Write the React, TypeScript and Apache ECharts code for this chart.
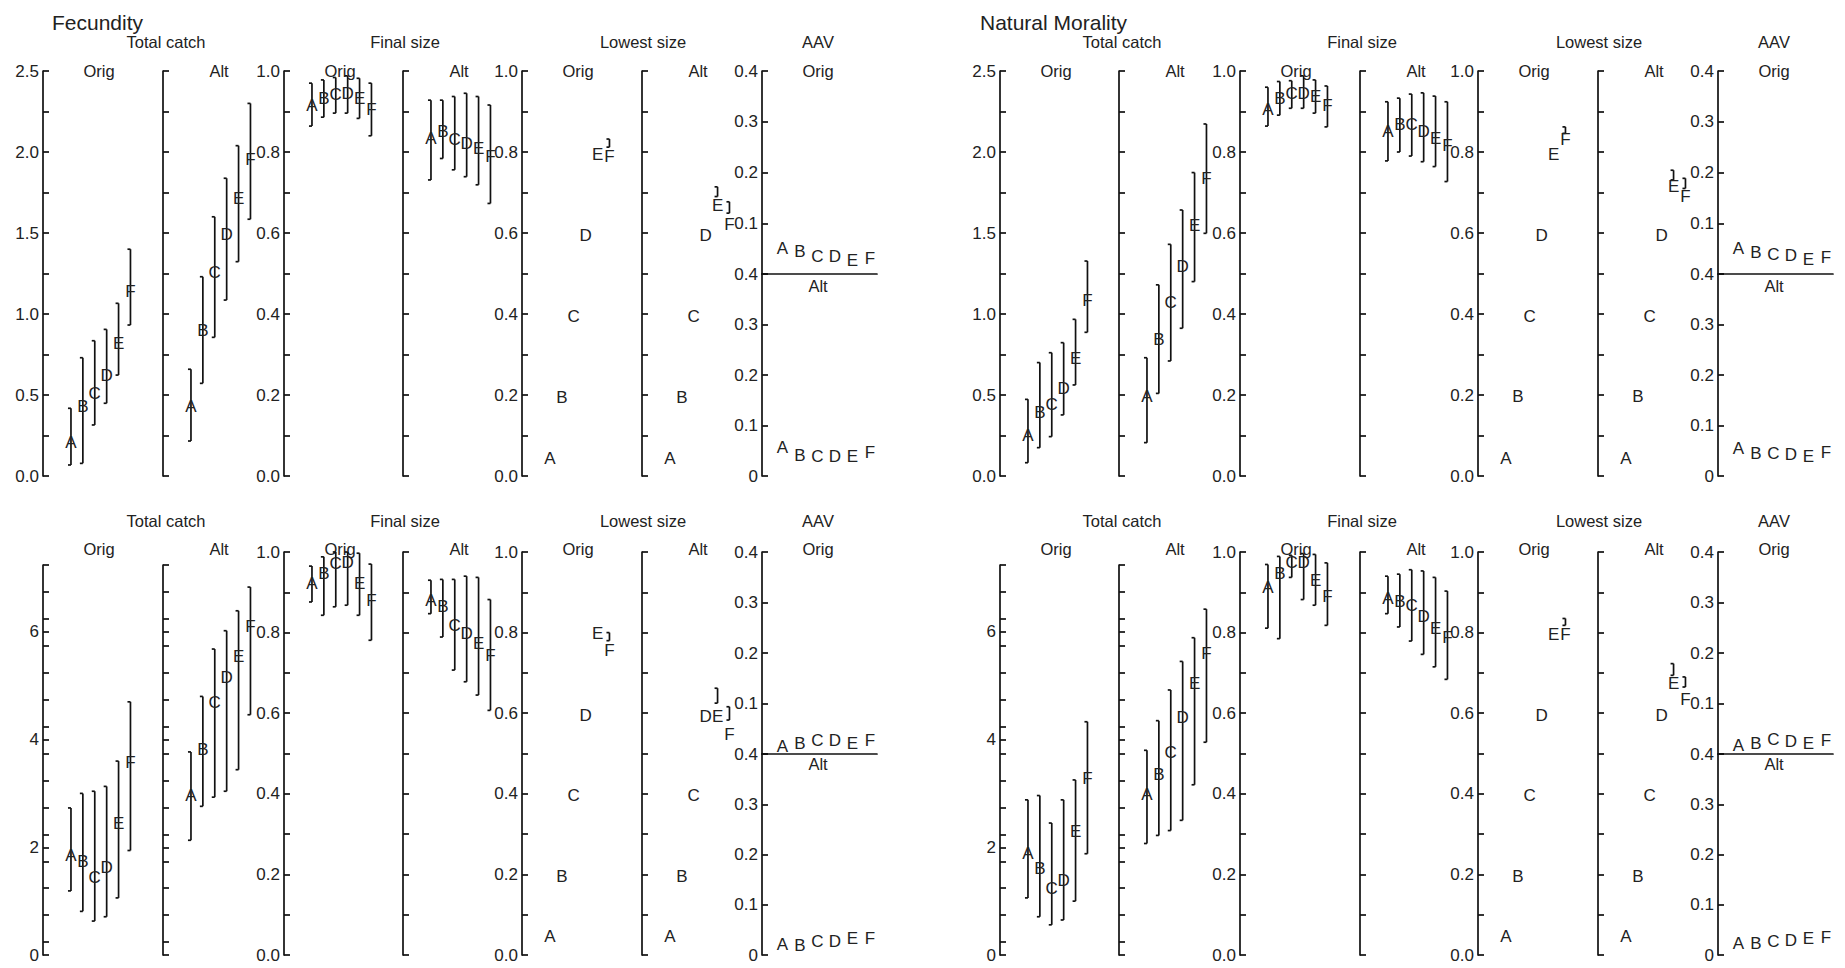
import React, { useEffect, useRef } from 'react';
import * as echarts from 'echarts';

// ---------- data: [mean, low, high] per scenario A..F ----------
const LETTERS = ['A', 'B', 'C', 'D', 'E', 'F'];
const X_POS = [1, 2, 3, 4, 5, 6];

// Fecundity, upper row
const FEC1_TC_ORIG = [[0.206, 0.068, 0.418], [0.428, 0.078, 0.73], [0.51, 0.315, 0.835], [0.623, 0.449, 0.905], [0.819, 0.623, 1.066], [1.138, 0.932, 1.4]];
const FEC1_TC_ALT = [[0.428, 0.216, 0.659], [0.901, 0.572, 1.23], [1.255, 0.856, 1.6], [1.488, 1.086, 1.838], [1.714, 1.323, 2.039], [1.951, 1.585, 2.3]];
const FEC1_FS_ORIG = [[0.914, 0.864, 0.97], [0.933, 0.886, 0.978], [0.941, 0.896, 0.984], [0.945, 0.896, 0.988], [0.933, 0.883, 0.982], [0.904, 0.84, 0.97]];
const FEC1_FS_ALT = [[0.834, 0.731, 0.928], [0.85, 0.784, 0.928], [0.83, 0.756, 0.937], [0.82, 0.739, 0.945], [0.809, 0.719, 0.937], [0.788, 0.673, 0.916]];
const FEC1_LS_ORIG = [[0.044, null, null], [0.195, null, null], [0.395, null, null], [0.595, null, null], [0.793, null, null], [0.79, 0.812, 0.832]];
const FEC1_LS_ALT = [[0.044, null, null], [0.195, null, null], [0.395, null, null], [0.595, null, null], [0.669, 0.69, 0.714], [0.62, 0.649, 0.677]];
const FEC1_AAV_ORIG = [0.051, 0.044, 0.035, 0.034, 0.027, 0.031];
const FEC1_AAV_ALT = [0.056, 0.041, 0.039, 0.039, 0.038, 0.046];

// Fecundity, lower row
const FEC2_TC_ORIG = [[1.85, 1.19, 2.73], [1.73, 0.81, 3.0], [1.44, 0.63, 3.04], [1.63, 0.71, 3.13], [2.45, 1.06, 3.6], [3.58, 1.94, 4.7]];
const FEC2_TC_ALT = [[2.96, 2.13, 3.77], [3.81, 2.76, 4.8], [4.69, 2.93, 5.68], [5.15, 3.04, 6.02], [5.54, 3.44, 6.39], [6.09, 4.46, 6.83]];
const FEC2_FS_ORIG = [[0.922, 0.876, 0.965], [0.946, 0.843, 0.988], [0.971, 0.864, 1.0], [0.975, 0.868, 1.0], [0.922, 0.843, 0.997], [0.88, 0.781, 0.97]];
const FEC2_FS_ALT = [[0.88, 0.847, 0.93], [0.864, 0.789, 0.932], [0.818, 0.707, 0.932], [0.798, 0.678, 0.94], [0.774, 0.645, 0.937], [0.744, 0.607, 0.882]];
const FEC2_LS_ORIG = [[0.045, null, null], [0.194, null, null], [0.397, null, null], [0.595, null, null], [0.798, null, null], [0.756, 0.78, 0.8]];
const FEC2_LS_ALT = [[0.045, null, null], [0.194, null, null], [0.397, null, null], [0.591, null, null], [0.591, 0.625, 0.662], [0.546, 0.583, 0.616]];
const FEC2_AAV_ORIG = [0.0145, 0.02, 0.026, 0.026, 0.021, 0.026];
const FEC2_AAV_ALT = [0.02, 0.018, 0.026, 0.027, 0.033, 0.033];

// Natural Morality, upper row
const NM1_TC_ORIG = [[0.253, 0.082, 0.473], [0.391, 0.175, 0.7], [0.444, 0.243, 0.761], [0.541, 0.377, 0.823], [0.726, 0.562, 0.967], [1.086, 0.887, 1.327]];
const NM1_TC_ALT = [[0.49, 0.206, 0.73], [0.84, 0.51, 1.18], [1.07, 0.71, 1.43], [1.296, 0.912, 1.642], [1.549, 1.2, 1.873], [1.838, 1.498, 2.173]];
const NM1_FS_ORIG = [[0.904, 0.864, 0.96], [0.933, 0.891, 0.974], [0.945, 0.908, 0.976], [0.945, 0.908, 0.988], [0.937, 0.896, 0.978], [0.916, 0.862, 0.963]];
const NM1_FS_ALT = [[0.85, 0.778, 0.924], [0.867, 0.8, 0.933], [0.867, 0.79, 0.943], [0.85, 0.776, 0.946], [0.834, 0.764, 0.938], [0.817, 0.727, 0.924]];
const NM1_LS_ORIG = [[0.044, null, null], [0.196, null, null], [0.393, null, null], [0.595, null, null], [0.793, null, null], [0.83, 0.846, 0.862]];
const NM1_LS_ALT = [[0.044, null, null], [0.196, null, null], [0.393, null, null], [0.595, null, null], [0.714, 0.731, 0.755], [0.69, 0.71, 0.735]];
const NM1_AAV_ORIG = [0.051, 0.042, 0.038, 0.036, 0.028, 0.033];
const NM1_AAV_ALT = [0.054, 0.045, 0.045, 0.043, 0.038, 0.046];

// Natural Morality, lower row
const NM2_TC_ORIG = [[1.88, 1.06, 2.88], [1.61, 0.71, 2.96], [1.23, 0.56, 2.45], [1.39, 0.65, 2.88], [2.3, 1.0, 3.25], [3.27, 1.88, 4.33]];
const NM2_TC_ALT = [[2.98, 2.07, 3.8], [3.35, 2.22, 4.35], [3.75, 2.31, 4.92], [4.41, 2.5, 5.45], [5.04, 3.16, 5.89], [5.6, 3.95, 6.42]];
const NM2_FS_ORIG = [[0.913, 0.811, 0.969], [0.946, 0.785, 0.989], [0.975, 0.937, 0.992], [0.975, 0.882, 0.996], [0.93, 0.868, 0.994], [0.89, 0.818, 0.973]];
const NM2_FS_ALT = [[0.884, 0.847, 0.94], [0.876, 0.814, 0.945], [0.868, 0.779, 0.956], [0.84, 0.746, 0.953], [0.81, 0.715, 0.937], [0.789, 0.684, 0.903]];
const NM2_LS_ORIG = [[0.045, null, null], [0.194, null, null], [0.397, null, null], [0.595, null, null], [0.796, null, null], [0.796, 0.818, 0.835]];
const NM2_LS_ALT = [[0.045, null, null], [0.194, null, null], [0.397, null, null], [0.595, null, null], [0.674, 0.694, 0.723], [0.634, 0.665, 0.69]];
const NM2_AAV_ORIG = [0.016, 0.021, 0.028, 0.024, 0.02, 0.026];
const NM2_AAV_ALT = [0.022, 0.022, 0.026, 0.028, 0.033, 0.035];

// ---------- tick labels / tick positions ----------
const TC1_LABELS = [0, 0.5, 1, 1.5, 2, 2.5];
const TC1_TICKS = [0, 0.25, 0.5, 0.75, 1, 1.25, 1.5, 1.75, 2, 2.25, 2.5];
const TC2_MAX = 7.24;
const TC2_LABELS = [0, 2, 4, 6];
const TC2_TICKS = [0, 2, 4, 6, 0.24, 0.74, 1.24, 1.74, 2.24, 2.74, 3.24, 3.74, 4.24, 4.74, 5.24, 5.74, 6.24, 6.74, 7.24];
const UNIT_LABELS = [0, 0.2, 0.4, 0.6, 0.8, 1];
const UNIT_TICKS = [0, 0.1, 0.2, 0.3, 0.4, 0.5, 0.6, 0.7, 0.8, 0.9, 1];
const AAV_TOP_LABELS = [0.1, 0.2, 0.3, 0.4];
const AAV_BOTTOM_LABELS = [0, 0.1, 0.2, 0.3, 0.4];
const AAV_TICKS = [0, 0.1, 0.2, 0.3, 0.4];

const PANEL_TITLES = ['Fecundity', 'Natural Morality'];
const GROUP_TITLES = ['Total catch', 'Final size', 'Lowest size', 'AAV'];
const SUB_TITLES = ['Orig', 'Alt'];

const PANEL_DATA = [
  [
    { tc: [FEC1_TC_ORIG, FEC1_TC_ALT], fs: [FEC1_FS_ORIG, FEC1_FS_ALT], ls: [FEC1_LS_ORIG, FEC1_LS_ALT], aav: [FEC1_AAV_ORIG, FEC1_AAV_ALT] },
    { tc: [FEC2_TC_ORIG, FEC2_TC_ALT], fs: [FEC2_FS_ORIG, FEC2_FS_ALT], ls: [FEC2_LS_ORIG, FEC2_LS_ALT], aav: [FEC2_AAV_ORIG, FEC2_AAV_ALT] },
  ],
  [
    { tc: [NM1_TC_ORIG, NM1_TC_ALT], fs: [NM1_FS_ORIG, NM1_FS_ALT], ls: [NM1_LS_ORIG, NM1_LS_ALT], aav: [NM1_AAV_ORIG, NM1_AAV_ALT] },
    { tc: [NM2_TC_ORIG, NM2_TC_ALT], fs: [NM2_FS_ORIG, NM2_FS_ALT], ls: [NM2_LS_ORIG, NM2_LS_ALT], aav: [NM2_AAV_ORIG, NM2_AAV_ALT] },
  ],
];

// ---------- layout ----------
const FONT = '"Liberation Sans", Arial, Helvetica, sans-serif';
const INK = '#111';
const TXT = '#222';
const LETTER_SIZE = 17;
const TICK_SIZE = 17;
const PANEL_AXES = [
  [43, 163, 284, 403, 522, 642, 762],
  [1000, 1119, 1240, 1360, 1478, 1598, 1718],
];
const PANEL_TITLE_X = [52, 980];
const ROWS = [
  { top: 71, bottom: 476, tcTop: 71, mid: 274, titleY: 42, subY: 71, altY: 286 },
  { top: 552, bottom: 955, tcTop: 565, mid: 754, titleY: 521, subY: 549, altY: 764 },
];
const SUB_W = 119;
const X_MIN = -1.35;
const X_MAX = 8.65;
const AAV_W = 115;
const AAV_XMIN = -0.17;
const AAV_XMAX = 6.4;
const CAP = 3;

function fmt1(v: number) {
  return v.toFixed(1);
}

function makeRender(rows: any[]) {
  return (params: any, api: any) => {
    const i = params.dataIndex;
    const d = rows[i];
    const x = X_POS[i];
    const c = api.coord([x, d[0]]);
    const children: any[] = [];
    if (d[1] != null && d[2] != null) {
      const a = api.coord([x, d[1]]);
      const b = api.coord([x, d[2]]);
      const st = { stroke: INK, lineWidth: 1.7, fill: null };
      children.push({ type: 'line', shape: { x1: a[0], y1: a[1], x2: b[0], y2: b[1] }, style: st });
      children.push({ type: 'line', shape: { x1: a[0] - CAP, y1: a[1], x2: a[0], y2: a[1] }, style: st });
      children.push({ type: 'line', shape: { x1: b[0] - CAP, y1: b[1], x2: b[0], y2: b[1] }, style: st });
    }
    children.push({
      type: 'text',
      x: c[0],
      y: c[1],
      z2: 10,
      style: {
        text: LETTERS[i],
        fill: TXT,
        fontSize: LETTER_SIZE,
        fontFamily: FONT,
        align: 'center',
        verticalAlign: 'middle',
        textAlign: 'center',
        textVerticalAlign: 'middle',
      },
    });
    return { type: 'group', children };
  };
}

function textEl(text: string, x: number, y: number, size: number, align = 'center') {
  return {
    type: 'text',
    x,
    y,
    silent: true,
    style: {
      text,
      fill: TXT,
      fontSize: size,
      fontFamily: FONT,
      align,
      verticalAlign: 'middle',
      textAlign: align,
      textVerticalAlign: 'middle',
    },
  };
}

function buildOption() {
  const grid: any[] = [];
  const xAxis: any[] = [];
  const yAxis: any[] = [];
  const series: any[] = [];
  const graphic: any[] = [];

  const axisLine = { show: true, onZero: false, lineStyle: { color: INK, width: 1.7 } };
  const tickStyle = { color: INK, width: 1.7 };
  const labelBase = { margin: 4, fontSize: TICK_SIZE, color: TXT, fontFamily: FONT };

  const addGrid = (left: number, top: number, width: number, height: number, xmin: number, xmax: number, yCfg: any, showXLine: boolean) => {
    const gi = grid.length;
    grid.push({ left, top, width, height, containLabel: false, outerBoundsMode: 'none', show: false });
    xAxis.push({
      gridIndex: gi,
      type: 'value',
      min: xmin,
      max: xmax,
      show: showXLine,
      axisLine: { show: showXLine, onZero: false, lineStyle: { color: INK, width: 1.7 } },
      axisTick: { show: false },
      axisLabel: { show: false },
      splitLine: { show: false },
    });
    yAxis.push({
      gridIndex: gi,
      type: 'value',
      min: yCfg.min,
      max: yCfg.max,
      axisLine,
      axisTick: { show: true, inside: true, length: 6, customValues: yCfg.ticks, lineStyle: tickStyle },
      axisLabel: { ...labelBase, show: yCfg.showLabels, customValues: yCfg.labels, formatter: yCfg.fmt },
      splitLine: { show: false },
    });
    return gi;
  };

  const addSeries = (gi: number, rows: any[]) => {
    series.push({
      type: 'custom',
      xAxisIndex: gi,
      yAxisIndex: gi,
      silent: true,
      clip: false,
      data: rows.map((d: any, i: number) => [X_POS[i], d[0]]),
      renderItem: makeRender(rows),
    });
  };

  for (let p = 0; p < 2; p++) {
    const axes = PANEL_AXES[p];
    graphic.push(textEl(PANEL_TITLES[p], PANEL_TITLE_X[p], 22, 21, 'left'));
    for (let r = 0; r < 2; r++) {
      const row = ROWS[r];
      const d = PANEL_DATA[p][r];
      const metrics = [d.tc, d.fs, d.ls];
      for (let k = 0; k < 6; k++) {
        const m = Math.floor(k / 2);
        const v = k % 2;
        const isTc = m === 0;
        const top = isTc ? row.tcTop : row.top;
        let yCfg: any;
        if (isTc && r === 0) {
          yCfg = { min: 0, max: 2.5, ticks: TC1_TICKS, labels: TC1_LABELS, fmt: fmt1 };
        } else if (isTc) {
          yCfg = { min: 0, max: TC2_MAX, ticks: TC2_TICKS, labels: TC2_LABELS, fmt: (x: number) => String(Math.round(x)) };
        } else {
          yCfg = { min: 0, max: 1, ticks: UNIT_TICKS, labels: UNIT_LABELS, fmt: fmt1 };
        }
        yCfg.showLabels = v === 0;
        const gi = addGrid(axes[k], top, SUB_W, row.bottom - top, X_MIN, X_MAX, yCfg, false);
        addSeries(gi, metrics[m][v]);
        graphic.push(textEl(SUB_TITLES[v], axes[k] + 56, row.subY, 16.5));
      }
      // AAV: Orig on top, Alt below, split by a horizontal rule
      const ax = axes[6];
      const topCfg = { min: 0, max: 0.4, ticks: AAV_TICKS, labels: AAV_TOP_LABELS, fmt: fmt1, showLabels: true };
      const botCfg = {
        min: 0, max: 0.4, ticks: AAV_TICKS, labels: AAV_BOTTOM_LABELS,
        fmt: (x: number) => (x === 0 ? '0' : x.toFixed(1)), showLabels: true,
      };
      const g1 = addGrid(ax, row.top, AAV_W, row.mid - row.top, AAV_XMIN, AAV_XMAX, topCfg, true);
      addSeries(g1, d.aav[0].map((x: number) => [x, null, null]));
      const g2 = addGrid(ax, row.mid, AAV_W, row.bottom - row.mid, AAV_XMIN, AAV_XMAX, botCfg, false);
      addSeries(g2, d.aav[1].map((x: number) => [x, null, null]));
      graphic.push(textEl(SUB_TITLES[0], ax + 56, row.subY, 16.5));
      graphic.push(textEl(SUB_TITLES[1], ax + 56, row.altY, 16.5));

      // group titles
      const titleX = [axes[1] + 3, axes[3] + 2, axes[5] + 1, axes[6] + 56];
      for (let g = 0; g < 4; g++) {
        graphic.push(textEl(GROUP_TITLES[g], titleX[g], row.titleY, 16.5));
      }
    }
  }

  return {
    animation: false,
    backgroundColor: '#ffffff',
    grid,
    xAxis,
    yAxis,
    series,
    graphic: { elements: graphic },
  };
}

export default function App() {
  const ref = useRef<HTMLDivElement | null>(null);
  useEffect(() => {
    if (!ref.current) return;
    const chart = echarts.init(ref.current, undefined, { renderer: 'svg' });
    chart.setOption(buildOption() as any);
    return () => chart.dispose();
  }, []);
  return (
    <div
      ref={ref}
      style={{ position: 'fixed', left: 0, top: 0, width: 1845, height: 968, background: '#fff' }}
    />
  );
}
